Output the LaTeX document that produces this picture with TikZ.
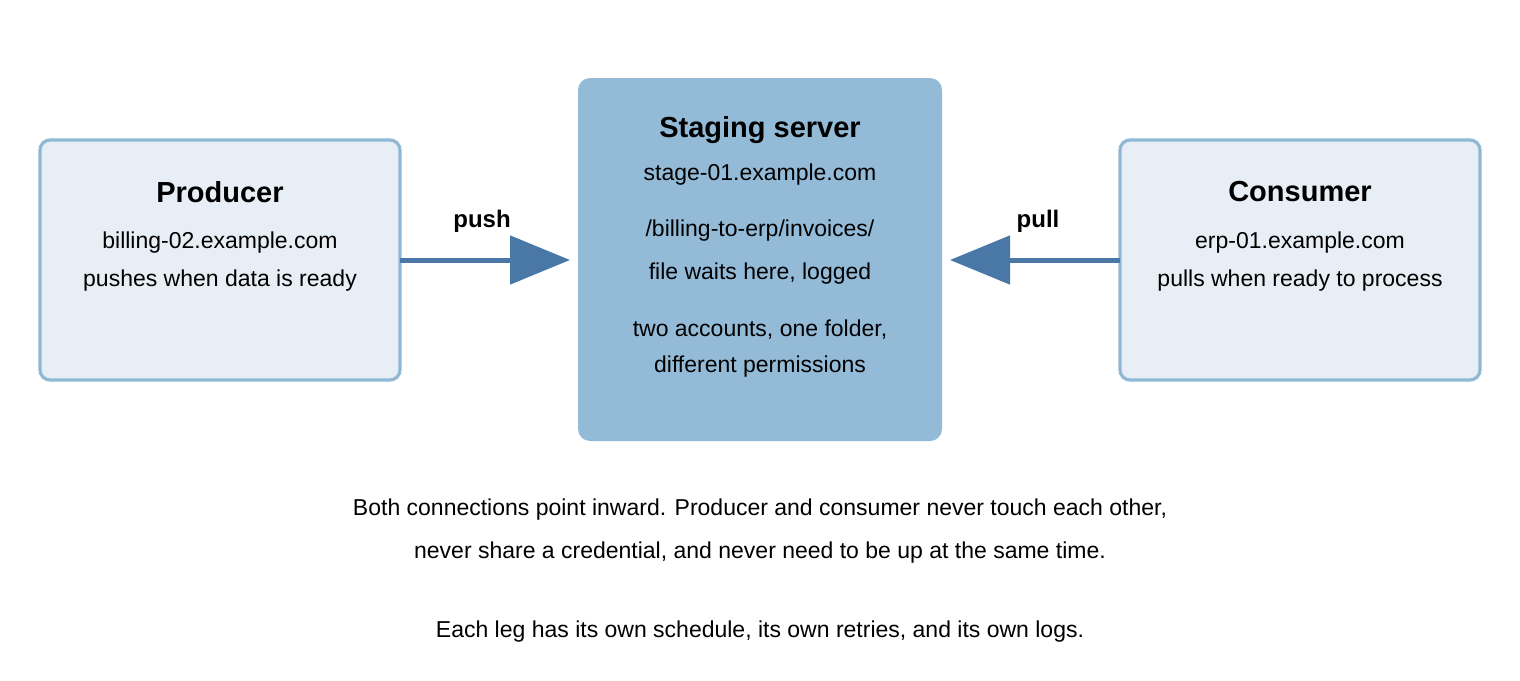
\documentclass[tikz,border=0pt]{standalone}
\usepackage{fontspec}
\setmainfont{Liberation Sans}
\usetikzlibrary{arrows.meta}
\definecolor{sideFill}{HTML}{E8EEF5}
\definecolor{sideLine}{HTML}{8FB8D6}
\definecolor{midFill}{HTML}{93BBD8}
\definecolor{arrowC}{HTML}{4A78A6}
\begin{document}
\begin{tikzpicture}[x=0.5pt,y=-0.5pt,
  side/.style={draw=sideLine,line width=1.6pt,fill=sideFill,rounded corners=5pt},
  mid/.style={fill=midFill,rounded corners=6pt},
  ttl/.style={font=\bfseries\fontsize{14.5}{17}\selectfont},
  txt/.style={font=\fontsize{11.5}{14}\selectfont},
  conn/.style={draw=arrowC,line width=2.5pt,-{Triangle[length=30pt,width=24pt]},shorten >=4pt},
  lbl/.style={font=\bfseries\fontsize{12}{14}\selectfont}]
\useasboundingbox (0,0) rectangle (1520,680);
\path[side] (40,140) rectangle (400,380);
\path[mid] (578,78) rectangle (942,441);
\path[side] (1120,140) rectangle (1480,380);
\coordinate (pE) at (400,260);
\coordinate (sW) at (578,260);
\coordinate (sE) at (942,260);
\coordinate (cW) at (1120,260);
\draw[conn] (pE) -- (sW);
\draw[conn] (cW) -- (sE);
\node[lbl] (push) at (482,221) {push};
\node[lbl] (pull) at (1038,221) {pull};
\node[ttl] (pt) at (220,192) {Producer};
\node[txt] (p1) at (220,243) {billing-02.example.com};
\node[txt] (p2) at (220,281) {pushes when data is ready};
\node[ttl] (st) at (760,130) {Staging server};
\node[txt] (s1) at (760,175) {stage-01.example.com};
\node[txt] (s2) at (760,231) {/billing-to-erp/invoices/};
\node[txt] (s3) at (760,274) {file waits here, logged};
\node[txt] (s4) at (760,330) {two accounts, one folder,};
\node[txt] (s5) at (760,367) {different permissions};
\node[ttl] (ct) at (1300,192) {Consumer};
\node[txt] (c1) at (1300,243) {erp-01.example.com};
\node[txt] (c2) at (1300,281) {pulls when ready to process};
\node[txt] (b1) at (760,510) {Both connections point inward. Producer and consumer never touch each other,};
\node[txt] (b2) at (760,553) {never share a credential, and never need to be up at the same time.};
\node[txt] (b3) at (760,632) {Each leg has its own schedule, its own retries, and its own logs.};
\end{tikzpicture}
\end{document}
